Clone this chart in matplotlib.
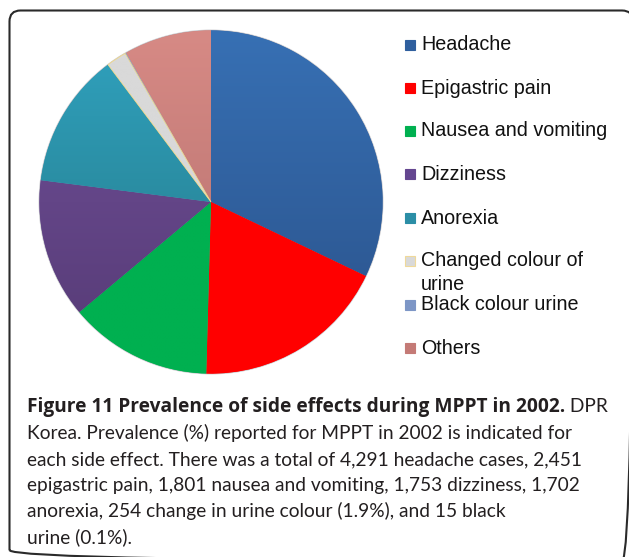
import matplotlib
matplotlib.use("Agg")
import matplotlib.pyplot as plt
import numpy as np
from matplotlib.transforms import Affine2D
from matplotlib.patches import PathPatch, Rectangle
from matplotlib.path import Path
from matplotlib.colors import to_rgb

# Side effects reported during MPPT, 2002
categories = ["Headache", "Epigastric pain", "Nausea and vomiting", "Dizziness",
              "Anorexia", "Changed colour of urine", "Black colour urine", "Others"]
legend_labels = ["Headache", "Epigastric pain", "Nausea and vomiting", "Dizziness",
                 "Anorexia", "Changed colour of\nurine", "Black colour urine", "Others"]
cases = [4291, 2451, 1801, 1753, 1702, 254, 15, 1100]

# top / bottom colours of the vertical shading on each slice
top_colors = ["#3770b4", "#ff0000", "#00b050", "#71509a", "#30a2bf", "#d9d9d9", "#8aa2cf", "#d78a85"]
bot_colors = ["#2a5189", "#ff0000", "#00b050", "#553a74", "#247683", "#d9d9d9", "#6f88b8", "#b26e6c"]
legend_colors = ["#2f5f9e", "#ff0000", "#00b050", "#644690", "#2b8ea6", "#d9d9d9", "#7d96c6", "#c47a76"]

caption_bold = "Figure 11 Prevalence of side effects during MPPT in 2002."
caption_lines = [
    " DPR",
    "Korea. Prevalence (%) reported for MPPT in 2002 is indicated for",
    "each side effect. There was a total of 4,291 headache cases, 2,451",
    "epigastric pain, 1,801 nausea and vomiting, 1,753 dizziness, 1,702",
    "anorexia, 254 change in urine colour (1.9%), and 15 black",
    "urine (0.1%).",
]

W, H = 629, 557
fig = plt.figure(figsize=(W / 100, H / 100), dpi=100)
fig.patch.set_facecolor("white")
# pixel coordinates measured from the top-left corner
px = Affine2D().scale(1 / W, -1 / H).translate(0, 1) + fig.transFigure

# outer rounded frame (runs off the right and bottom edges)
L, T, R, B, rc = 9.5, 10.5, 633, 561, 11
verts = [(L, B - rc), (L, T + rc), (L, T), (L + rc, T), (R - rc, T), (R, T), (R, T + rc),
         (R, B - rc), (R, B), (R - rc, B), (L + rc, B), (L, B), (L, B - rc)]
codes = [Path.MOVETO, Path.LINETO, Path.CURVE3, Path.CURVE3, Path.LINETO, Path.CURVE3,
         Path.CURVE3, Path.LINETO, Path.CURVE3, Path.CURVE3, Path.LINETO, Path.CURVE3,
         Path.CURVE3]
frame = PathPatch(Path(verts, codes), transform=px, fill=False, lw=1.5, ec="#2a2a2a")
fig.add_artist(frame)

# pie
cx, cy, r = 211, 202, 175
ax = fig.add_axes([(cx - r) / W, (H - cy - r) / H, 2 * r / W, 2 * r / H])
wedges, _ = ax.pie(cases, startangle=90, counterclock=False, radius=1,
                   colors=legend_colors,
                   wedgeprops=dict(linewidth=0))
ax.axis("off")

# soft rim around the pie
rim = plt.Circle((0, 0), 1.0, fill=False, ec="#c8c8cc", lw=1.2, zorder=0.5)
ax.add_patch(rim)

n = 256
t = np.linspace(0, 1, n)[:, None]
for w, ct, cb in zip(wedges, top_colors, bot_colors):
    a, b = np.array(to_rgb(ct)), np.array(to_rgb(cb))
    grad = (1 - t) * a + t * b
    img = np.repeat(grad[:, None, :], 2, axis=1)
    im = ax.imshow(img, extent=[-1, 1, -1, 1], origin="upper", aspect="auto",
                   interpolation="bilinear", zorder=1)
    im.set_clip_path(w)

# thin pale-yellow outline on the changed-colour slice
wedges[5].set_edgecolor("#f2d98a")
wedges[5].set_linewidth(0.6)
wedges[5].set_zorder(2)
wedges[5].set_facecolor("none")
ax.set_xlim(-1.02, 1.02)
ax.set_ylim(-1.02, 1.02)
ax.set_aspect("auto")

# legend
legend_y = [45, 88, 131, 174, 218, 261, 305, 348]
legend_font = dict(family="Liberation Sans", size=14.2, color="#111111")
for lab, col, y in zip(legend_labels, legend_colors, legend_y):
    ec = "#efd99a" if col == "#d9d9d9" else col
    fig.add_artist(Rectangle((405, y - 5), 10, 10, transform=px, fc=col, ec=ec, lw=0.8))
    lines = lab.split("\n")
    for k, ln in enumerate(lines):
        fig.text(421, y + 24 * k, ln, transform=px, va="center", ha="left", **legend_font)

# caption
cap_font = dict(family="Lato", size=13.8, color="#231f20")
line_y = [412, 439, 465, 491, 517, 543]
x0 = 27
bold_width = 538  # width of the bold title run, px
tb = fig.text(x0, line_y[0], caption_bold, transform=px, va="baseline", ha="left",
              weight="bold", family="Open Sans", size=13.5, color="#231f20")
renderer = fig.canvas.get_renderer()
w0 = tb.get_window_extent(renderer).width
tb.set_fontsize(13.5 * bold_width / w0)
x_end = tb.get_window_extent(renderer).x1 / fig.dpi * 100
fig.text(x_end, line_y[0], caption_lines[0], transform=px, va="baseline", ha="left", **cap_font)
for ln, y in zip(caption_lines[1:], line_y[1:]):
    fig.text(x0, y, ln, transform=px, va="baseline", ha="left", **cap_font)

fig.savefig("out.png", dpi=100)
